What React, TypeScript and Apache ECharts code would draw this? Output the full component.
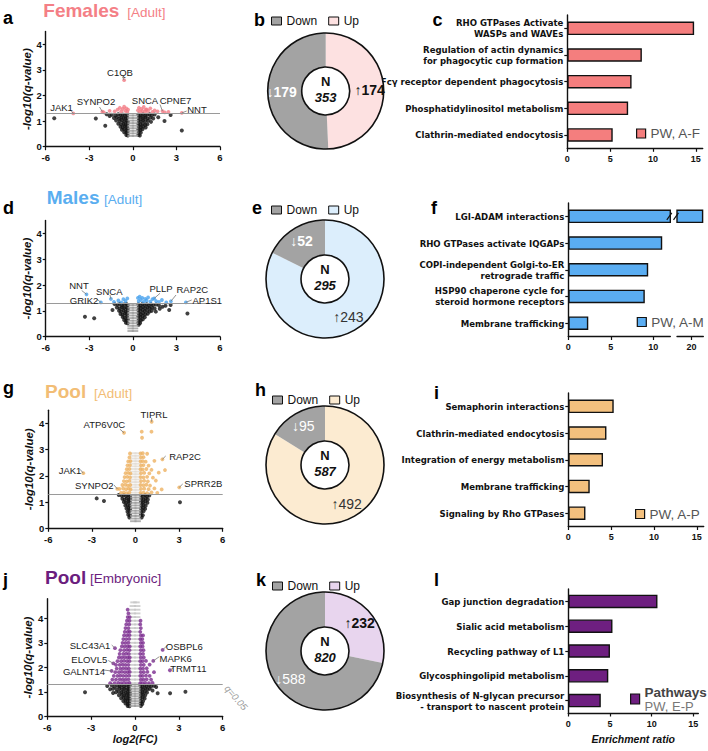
import React, { useEffect, useRef } from "react";
import * as echarts from "echarts";

type P = [number, number];

const FONT = '"Liberation Sans", Arial, Helvetica, sans-serif';
const NARROW = '"Liberation Sans Narrow", "Arial Narrow", "DejaVu Sans Condensed", sans-serif';

// ================= Volcano plots =================
const volcanoXTicks = [-6, -3, 0, 3, 6];
const volcanoYTicks = [0, 1, 2, 3, 4];
const qThreshold = 1.3; // -log10(0.05)

// ---- a: Females [Adult]
const aNonSig: P[] = [
  [-5.41, 1.11], [-2.55, 1.1], [-1.9, 0.82], [3.37, 0.63], [2.6, 1.24], [2.18, 1.0], [1.75, 1.15], [-1.6, 1.2],
  [-1.8, 1.27], [-1.45, 1.25], [-1.2, 1.22], [-1.0, 1.27], [-0.85, 1.24], [-0.7, 1.26], [-0.55, 1.22], [-0.4, 1.25],
  [-1.3, 1.12], [-1.1, 1.15], [-0.95, 1.1], [-0.8, 1.14], [-0.65, 1.12], [-0.5, 1.1], [-0.38, 1.13],
  [-1.15, 1.02], [-0.9, 1.0], [-0.75, 1.03], [-0.6, 0.98], [-0.45, 1.01], [-0.35, 0.97],
  [-1.0, 0.9], [-0.8, 0.88], [-0.65, 0.9], [-0.5, 0.86], [-0.37, 0.9],
  [-0.85, 0.78], [-0.7, 0.76], [-0.55, 0.8], [-0.4, 0.77],
  [-0.75, 0.66], [-0.6, 0.68], [-0.45, 0.65], [-0.35, 0.7],
  [-0.6, 0.56], [-0.45, 0.55], [-0.36, 0.58], [-0.45, 0.46], [-0.35, 0.44],
  [0.38, 1.26], [0.55, 1.24], [0.7, 1.27], [0.85, 1.22], [1.0, 1.25], [1.15, 1.27], [1.3, 1.23], [1.5, 1.26],
  [0.4, 1.13], [0.55, 1.15], [0.7, 1.12], [0.85, 1.14], [1.0, 1.1], [1.2, 1.13], [1.4, 1.1],
  [0.4, 1.02], [0.55, 1.0], [0.7, 1.03], [0.85, 0.99], [1.05, 1.01], [1.25, 0.97],
  [0.38, 0.9], [0.52, 0.88], [0.68, 0.9], [0.85, 0.86], [1.0, 0.88],
  [0.4, 0.78], [0.55, 0.77], [0.7, 0.79], [0.88, 0.75],
  [0.38, 0.67], [0.52, 0.65], [0.66, 0.68], [0.4, 0.56], [0.55, 0.55], [0.38, 0.46], [0.48, 0.44],
];
const aSig: P[] = [
  [-2.0, 1.34], [-1.6, 1.4], [-1.25, 1.38], [-1.05, 1.45], [-0.9, 1.52], [-0.8, 1.38], [-0.7, 1.48],
  [-0.6, 1.56], [-0.52, 1.4], [-0.45, 1.5], [-0.38, 1.36], [-0.33, 1.45],
  [0.35, 1.42], [0.42, 1.52], [0.5, 1.36], [0.58, 1.48], [0.66, 1.4], [0.75, 1.55], [0.85, 1.37],
  [0.95, 1.46], [1.05, 1.4], [1.2, 1.5], [1.35, 1.36], [1.5, 1.42], [1.7, 1.38], [2.2, 1.34], [2.45, 1.36],
];
const aBand: P[] = [
  [-0.15, 0.42], [0.15, 0.42], [-0.15, 0.52], [0.15, 0.52], [-0.15, 0.62], [0.15, 0.62],
  [-0.15, 0.72], [0.15, 0.72], [-0.15, 0.82], [0.15, 0.82], [-0.15, 0.92], [0.15, 0.92],
  [-0.15, 1.02], [0.15, 1.02], [-0.15, 1.12], [0.15, 1.12], [-0.15, 1.22], [0.15, 1.22],
];
const aGenes = ["C1QB", "JAK1", "SYNPO2", "SNCA", "CPNE7", "NNT"];
const aGenePts: P[] = [[-0.6, 2.6], [-4.1, 1.3], [-2.1, 1.37], [0.9, 1.45], [2.04, 1.39], [3.37, 1.32]];

// ---- d: Males [Adult]
const dNonSig: P[] = [
  [-3.3, 0.77], [-2.66, 0.71], [3.76, 0.9], [2.04, 1.16], [2.5, 1.03], [2.6, 1.23], [1.58, 0.97], [-1.4, 1.03], [2.25, 1.2], [1.85, 1.08],
  [-1.25, 1.26], [-1.05, 1.24], [-0.9, 1.27], [-0.75, 1.22], [-0.6, 1.25], [-0.45, 1.27], [-0.35, 1.22],
  [-1.1, 1.13], [-0.9, 1.1], [-0.75, 1.14], [-0.6, 1.11], [-0.45, 1.13], [-0.35, 1.08],
  [-0.95, 1.0], [-0.8, 0.98], [-0.65, 1.02], [-0.5, 0.97], [-0.37, 1.0],
  [-0.85, 0.88], [-0.7, 0.86], [-0.55, 0.9], [-0.4, 0.87],
  [-0.7, 0.76], [-0.55, 0.74], [-0.4, 0.78], [-0.6, 0.65], [-0.45, 0.63], [-0.35, 0.67], [-0.48, 0.54], [-0.36, 0.52],
  [0.38, 1.26], [0.52, 1.23], [0.66, 1.27], [0.8, 1.24], [0.95, 1.26], [1.1, 1.22], [1.25, 1.26], [1.4, 1.23], [1.6, 1.25], [1.8, 1.21],
  [0.4, 1.14], [0.55, 1.12], [0.7, 1.15], [0.85, 1.11], [1.0, 1.14], [1.15, 1.1], [1.3, 1.13], [1.5, 1.09],
  [0.38, 1.02], [0.52, 1.0], [0.68, 1.03], [0.82, 0.99], [0.98, 1.01], [1.15, 0.97], [1.3, 1.0],
  [0.4, 0.9], [0.55, 0.88], [0.7, 0.91], [0.86, 0.87], [1.02, 0.89],
  [0.38, 0.78], [0.52, 0.76], [0.67, 0.79], [0.82, 0.75],
  [0.4, 0.66], [0.55, 0.64], [0.68, 0.67], [0.38, 0.55], [0.5, 0.53], [0.4, 0.46],
];
const dSig: P[] = [
  [-1.3, 1.35], [-1.0, 1.4], [-0.8, 1.33], [-0.65, 1.45], [-0.5, 1.38], [-0.38, 1.48],
  [0.35, 1.5], [0.4, 1.38], [0.47, 1.55], [0.55, 1.42], [0.65, 1.5], [0.75, 1.35], [0.85, 1.46],
  [0.95, 1.4], [1.05, 1.52], [1.2, 1.36], [1.35, 1.45], [1.6, 1.38], [1.8, 1.35], [2.0, 1.42], [2.3, 1.33],
];
const dBand: P[] = [
  [-0.15, 0.22], [0.15, 0.22], [-0.15, 0.32], [0.15, 0.32], [-0.15, 0.42], [0.15, 0.42],
  [-0.15, 0.52], [0.15, 0.52], [-0.15, 0.62], [0.15, 0.62], [-0.15, 0.72], [0.15, 0.72],
  [-0.15, 0.82], [0.15, 0.82], [-0.15, 0.92], [0.15, 0.92], [-0.15, 1.02], [0.15, 1.02],
  [-0.15, 1.12], [0.15, 1.12], [-0.15, 1.22], [0.15, 1.22],
];
const dGenes = ["NNT", "GRIK2", "SNCA", "PLLP", "RAP2C", "AP1S1"];
const dGenePts: P[] = [[-3.19, 1.64], [-2.2, 1.33], [-1.51, 1.46], [1.47, 1.48], [2.62, 1.37], [3.65, 1.33]];

// ---- g: Pool [Adult]
const gNonSig: P[] = [
  [-2.67, 1.14], [-2.17, 1.04], [3.06, 0.99],
  [-1.15, 1.27], [-0.95, 1.24], [-0.8, 1.27], [-0.65, 1.23], [-0.5, 1.26], [-0.38, 1.22],
  [-0.9, 1.13], [-0.75, 1.1], [-0.6, 1.14], [-0.47, 1.1], [-0.36, 1.13],
  [-0.8, 1.0], [-0.65, 0.98], [-0.5, 1.02], [-0.38, 0.98],
  [-0.7, 0.87], [-0.55, 0.89], [-0.4, 0.86], [-0.62, 0.75], [-0.48, 0.77], [-0.37, 0.74],
  [-0.55, 0.63], [-0.42, 0.65], [-0.5, 0.52], [-0.38, 0.5], [-0.42, 0.41],
  [0.38, 1.26], [0.52, 1.23], [0.66, 1.27], [0.8, 1.22], [0.95, 1.25],
  [0.4, 1.13], [0.55, 1.1], [0.7, 1.14], [0.85, 1.1],
  [0.38, 1.0], [0.52, 0.98], [0.68, 1.02], [0.82, 0.97],
  [0.4, 0.87], [0.55, 0.89], [0.7, 0.86], [0.38, 0.75], [0.52, 0.77], [0.66, 0.74],
  [0.4, 0.63], [0.55, 0.65], [0.38, 0.52], [0.5, 0.5], [0.42, 0.41],
];
const gSig: P[] = [
  [-1.0, 1.35], [-0.8, 1.37], [-0.6, 1.34], [-0.42, 1.36],
  [-1.1, 1.5], [-0.85, 1.52], [-0.65, 1.49], [-0.47, 1.51], [-0.34, 1.48],
  [-0.9, 1.65], [-0.7, 1.66], [-0.52, 1.63], [-0.36, 1.65],
  [-0.8, 1.8], [-0.6, 1.79], [-0.42, 1.81], [-0.75, 1.95], [-0.56, 1.96], [-0.38, 1.94],
  [-0.68, 2.1], [-0.5, 2.11], [-0.35, 2.09], [-0.6, 2.25], [-0.42, 2.26],
  [-0.55, 2.4], [-0.38, 2.41], [-0.5, 2.55], [-0.35, 2.56], [-0.42, 2.7], [-0.38, 2.85],
  [0.35, 1.35], [0.55, 1.36], [0.8, 1.34], [1.1, 1.37], [1.5, 1.35],
  [0.38, 1.5], [0.6, 1.51], [0.9, 1.49], [1.3, 1.52], [1.8, 1.48],
  [0.35, 1.65], [0.55, 1.64], [0.75, 1.66], [1.0, 1.63],
  [0.38, 1.8], [0.6, 1.81], [0.85, 1.79], [1.4, 1.82],
  [0.35, 1.95], [0.55, 1.94], [0.8, 1.96], [1.2, 1.93],
  [0.38, 2.1], [0.6, 2.11], [0.95, 2.09], [1.6, 2.12],
  [0.35, 2.25], [0.5, 2.24], [0.75, 2.26], [1.1, 2.23], [2.03, 2.22],
  [0.38, 2.4], [0.55, 2.41], [0.9, 2.39], [0.35, 2.55], [0.5, 2.56], [0.7, 2.54], [1.3, 2.57],
  [0.38, 2.7], [0.55, 2.71], [0.35, 2.85], [0.5, 2.86], [0.8, 2.84],
  [0.43, 3.68], [1.1, 3.68], [0.45, 3.45],
];
const gBandLow: P[] = [
  [-0.15, 0.27], [0.15, 0.27], [-0.15, 0.37], [0.15, 0.37], [-0.15, 0.47], [0.15, 0.47],
  [-0.15, 0.57], [0.15, 0.57], [-0.15, 0.67], [0.15, 0.67], [-0.15, 0.77], [0.15, 0.77],
  [-0.15, 0.87], [0.15, 0.87], [-0.15, 0.97], [0.15, 0.97], [-0.15, 1.07], [0.15, 1.07],
  [-0.15, 1.17], [0.15, 1.17], [-0.15, 1.26], [0.15, 1.26],
];
const gBandHigh: P[] = [
  [-0.15, 1.36], [0.15, 1.36], [-0.15, 1.46], [0.15, 1.46], [-0.15, 1.56], [0.15, 1.56],
  [-0.15, 1.66], [0.15, 1.66], [-0.15, 1.76], [0.15, 1.76], [-0.15, 1.86], [0.15, 1.86],
  [-0.15, 1.96], [0.15, 1.96], [-0.15, 2.06], [0.15, 2.06], [-0.15, 2.16], [0.15, 2.16],
  [-0.15, 2.26], [0.15, 2.26], [-0.15, 2.36], [0.15, 2.36], [-0.15, 2.46], [0.15, 2.46],
  [-0.15, 2.56], [0.15, 2.56], [-0.15, 2.66], [0.15, 2.66], [-0.15, 2.76], [0.15, 2.76],
  [-0.15, 2.86], [0.15, 2.86],
];
const gGenes = ["TIPRL", "ATP6V0C", "RAP2C", "JAK1", "SYNPO2", "SPRR2B"];
const gGenePts: P[] = [[1.11, 4.06], [-0.79, 3.64], [1.85, 2.63], [-3.59, 2.1], [-1.25, 1.5], [3.01, 1.56]];

// ---- j: Pool [Embryonic]
const jNonSig: P[] = [
  [-3.42, 0.98], [1.55, 0.94], [2.4, 0.94], [3.45, 1.0], [-1.7, 1.1], [1.2, 1.05], [1.45, 1.2], [-1.5, 0.95],
  [-1.9, 1.24], [-1.6, 1.27], [-1.4, 1.22], [-1.2, 1.26], [-1.05, 1.23], [-0.9, 1.27], [-0.75, 1.22], [-0.6, 1.26], [-0.45, 1.23], [-0.35, 1.27],
  [-1.5, 1.12], [-1.25, 1.1], [-1.05, 1.14], [-0.9, 1.1], [-0.75, 1.13], [-0.6, 1.09], [-0.47, 1.12], [-0.36, 1.1],
  [-1.3, 0.98], [-1.1, 1.0], [-0.92, 0.97], [-0.78, 1.0], [-0.62, 0.96], [-0.48, 0.99], [-0.36, 0.97],
  [-1.1, 0.86], [-0.9, 0.88], [-0.75, 0.85], [-0.6, 0.87], [-0.45, 0.84], [-0.35, 0.88],
  [-0.95, 0.74], [-0.78, 0.76], [-0.62, 0.73], [-0.47, 0.75], [-0.36, 0.72],
  [-0.8, 0.62], [-0.65, 0.64], [-0.5, 0.61], [-0.37, 0.63], [-0.65, 0.52], [-0.5, 0.5], [-0.38, 0.53], [-0.5, 0.42], [-0.38, 0.41],
  [0.37, 1.26], [0.5, 1.22], [0.65, 1.27], [0.8, 1.23], [0.95, 1.26], [1.1, 1.22], [1.3, 1.25],
  [0.4, 1.13], [0.55, 1.1], [0.7, 1.14], [0.85, 1.1], [1.0, 1.12],
  [0.38, 1.0], [0.52, 0.98], [0.68, 1.01], [0.82, 0.97], [0.4, 0.87], [0.55, 0.89], [0.7, 0.86],
  [0.38, 0.75], [0.52, 0.77], [0.66, 0.73], [0.4, 0.63], [0.55, 0.61], [0.38, 0.52], [0.5, 0.5], [0.4, 0.42],
];
const jSig: P[] = [
  [-1.7, 1.35], [-1.4, 1.35], [-1.15, 1.36], [-0.95, 1.35], [-0.75, 1.36], [-0.55, 1.35], [-0.38, 1.36],
  [-1.55, 1.5], [-1.3, 1.5], [-1.05, 1.51], [-0.85, 1.5], [-0.65, 1.5], [-0.45, 1.51],
  [-1.45, 1.65], [-1.2, 1.65], [-1.0, 1.66], [-0.8, 1.65], [-0.6, 1.65], [-0.4, 1.66],
  [-1.35, 1.8], [-1.1, 1.8], [-0.9, 1.81], [-0.7, 1.8], [-0.5, 1.8], [-0.36, 1.81],
  [-1.25, 1.95], [-1.0, 1.95], [-0.8, 1.96], [-0.6, 1.95], [-0.42, 1.95],
  [-1.3, 2.1], [-1.05, 2.1], [-0.85, 2.11], [-0.65, 2.1], [-0.45, 2.1],
  [-1.2, 2.25], [-0.95, 2.25], [-0.75, 2.26], [-0.55, 2.25], [-0.38, 2.25],
  [-1.1, 2.4], [-0.9, 2.4], [-0.7, 2.41], [-0.5, 2.4], [-0.36, 2.4],
  [-1.05, 2.55], [-0.8, 2.55], [-0.6, 2.56], [-0.42, 2.55],
  [-1.0, 2.7], [-0.75, 2.7], [-0.55, 2.71], [-0.38, 2.7],
  [-0.9, 2.85], [-0.7, 2.85], [-0.5, 2.86], [-0.36, 2.85],
  [-0.85, 3.0], [-0.65, 3.0], [-0.45, 3.01], [-0.8, 3.15], [-0.6, 3.15], [-0.4, 3.16],
  [-0.75, 3.3], [-0.55, 3.3], [-0.38, 3.31], [-0.7, 3.45], [-0.5, 3.45], [-0.36, 3.46],
  [-0.65, 3.6], [-0.45, 3.6], [-0.6, 3.75], [-0.4, 3.75], [-0.55, 3.9], [-0.38, 3.9],
  [-0.5, 4.05], [-0.36, 4.05], [-0.45, 4.2], [-0.5, 4.35],
  [0.36, 1.35], [0.5, 1.35], [0.7, 1.36], [0.95, 1.35], [1.2, 1.36],
  [0.4, 1.5], [0.58, 1.5], [0.8, 1.51], [1.1, 1.5],
  [0.36, 1.65], [0.52, 1.65], [0.75, 1.66], [1.0, 1.65],
  [0.4, 1.8], [0.6, 1.8], [0.85, 1.81], [1.3, 1.8],
  [0.36, 1.95], [0.55, 1.95], [0.8, 1.96], [0.4, 2.1], [0.6, 2.1], [1.0, 2.11],
  [0.36, 2.25], [0.52, 2.25], [0.75, 2.26], [0.4, 2.4], [0.6, 2.4],
  [0.36, 2.55], [0.55, 2.55], [0.4, 2.7], [0.58, 2.7], [0.36, 2.85], [0.52, 2.85],
  [0.4, 3.0], [0.55, 3.0], [0.36, 3.15], [0.5, 3.15], [0.4, 3.3], [0.55, 3.3],
  [0.36, 3.45], [0.4, 3.6], [0.36, 3.75], [0.38, 3.9],
];
const jBandLow: P[] = [
  [-0.15, 0.42], [0.15, 0.42], [-0.15, 0.52], [0.15, 0.52], [-0.15, 0.62], [0.15, 0.62],
  [-0.15, 0.72], [0.15, 0.72], [-0.15, 0.82], [0.15, 0.82], [-0.15, 0.92], [0.15, 0.92],
  [-0.15, 1.02], [0.15, 1.02], [-0.15, 1.12], [0.15, 1.12], [-0.15, 1.22], [0.15, 1.22],
];
const jBandHigh: P[] = [
  [-0.15, 1.35], [0.15, 1.35], [-0.15, 1.5], [0.15, 1.5], [-0.15, 1.65], [0.15, 1.65],
  [-0.15, 1.8], [0.15, 1.8], [-0.15, 1.95], [0.15, 1.95], [-0.15, 2.1], [0.15, 2.1],
  [-0.15, 2.25], [0.15, 2.25], [-0.15, 2.4], [0.15, 2.4], [-0.15, 2.55], [0.15, 2.55],
  [-0.15, 2.7], [0.15, 2.7], [-0.15, 2.85], [0.15, 2.85], [-0.15, 3.0], [0.15, 3.0],
  [-0.15, 3.15], [0.15, 3.15], [-0.15, 3.3], [0.15, 3.3], [-0.15, 3.45], [0.15, 3.45],
  [-0.15, 3.6], [0.15, 3.6], [-0.15, 3.75], [0.15, 3.75], [-0.15, 3.9], [0.15, 3.9],
  [-0.15, 4.05], [0.15, 4.05], [-0.15, 4.2], [0.15, 4.2], [-0.15, 4.35], [0.15, 4.35],
  [-0.15, 4.5], [0.15, 4.5], [-0.1, 4.65], [0.1, 4.65],
];
const jGenes = ["SLC43A1", "ELOVL5", "GALNT14", "OSBPL6", "MAPK6", "TRMT11"];
const jGenePts: P[] = [[-1.37, 2.78], [-1.48, 2.16], [-1.6, 1.85], [1.89, 2.71], [1.25, 2.26], [2.39, 1.88]];

// ================= Donut charts =================
const pieDown = [179, 52, 95, 588];
const pieUp = [174, 243, 492, 232];
const pieTotal = [353, 295, 587, 820];

// ================= Enrichment bar charts =================
const cCats = [
  "RHO GTPases Activate\nWASPs and WAVEs",
  "Regulation of actin dynamics\nfor phagocytic cup formation",
  "Fcγ receptor dependent phagocytosis",
  "Phosphatidylinositol metabolism",
  "Clathrin-mediated endocytosis",
];
const cVals = [14.8, 8.7, 7.5, 7.1, 5.3];
const fCats = [
  "LGI-ADAM interactions",
  "RHO GTPases activate IQGAPs",
  "COPI-independent Golgi-to-ER\nretrograde traffic",
  "HSP90 chaperone cycle for\nsteroid hormone receptors",
  "Membrane trafficking",
];
const fVals = [21.3, 11.05, 9.4, 9.0, 2.35];
const iCats = [
  "Semaphorin interactions",
  "Clathrin-mediated endocytosis",
  "Integration of energy metabolism",
  "Membrane trafficking",
  "Signaling by Rho GTPases",
];
const iVals = [5.3, 4.45, 4.05, 2.5, 2.0];
const lCats = [
  "Gap junction degradation",
  "Sialic acid metabolism",
  "Recycling pathway of L1",
  "Glycosphingolipid metabolism",
  "Biosynthesis of N-glycan precursor\n- transport to nascent protein",
];
const lVals = [10.7, 5.3, 5.0, 4.8, 3.9];
const barTicks = [0, 5, 10, 15];
const fTicksLow = [0, 5, 10];
const fTicksHigh = [20];
const fBreak = [12, 18.4]; // axis break

// ================= Styling / layout =================
const COL = {
  female: { sig: "#F27D86", title: "#F47F86", bar: "#F47E7E", up: "#FDE1E1" },
  male: { sig: "#4AA3EE", title: "#5AAEF0", bar: "#5AADF2", up: "#DCEEFC" },
  poolA: { sig: "#EDB262", title: "#F2BD75", bar: "#F3C07E", up: "#FCEBD1" },
  poolE: { sig: "#7A2A8E", title: "#6B1D7E", bar: "#6E1F80", up: "#E8D5EE" },
};
const GREY = "#A3A3A3";

const volcanoGrids = [
  { left: 45.7, top: 31.5, width: 174.3, height: 115.2, max: 4.5 },
  { left: 45.7, top: 220.4, width: 174.3, height: 116.3, max: 4.5 },
  { left: 48.3, top: 410.2, width: 174.4, height: 118.1, max: 4.5 },
  { left: 47.3, top: 598.7, width: 175.4, height: 117.6, max: 4.8 },
];
const barGrids = [
  { left: 567.3, top: 15, width: 135.4, height: 133.3 }, // c
  { left: 568.3, top: 203, width: 102, height: 133.5 }, // f low
  { left: 677, top: 203, width: 26.3, height: 133.5 }, // f high
  { left: 568.3, top: 393, width: 135.4, height: 133.5 }, // i
  { left: 568.3, top: 589, width: 130, height: 124 }, // l
];
const pieLayout = [
  { cx: 325.7, cy: 91, r: 58, ri: 24, legendX: 271, legendY: 15 },
  { cx: 325, cy: 279, r: 59, ri: 24, legendX: 271, legendY: 204 },
  { cx: 325, cy: 465, r: 59, ri: 24, legendX: 272, legendY: 394 },
  { cx: 325, cy: 651, r: 59, ri: 24, legendX: 272, legendY: 580 },
];
// [textCenterX, textCenterY, leaderStartX, leaderStartY] (leader ends at the data point)
const aLabelPos = [[120, 72.5, 122.5, 77], [61.5, 107, 71, 110.5], [96, 101.7, 99.5, 107], [145, 100.5, -1, -1], [175.5, 100.5, 160, 104.5], [197, 109, 186.7, 111]];
const dLabelPos = [[79, 285, 81.7, 290.5], [84, 300, 96.7, 299], [109.3, 291, 110, 295], [161, 288.3, 160, 293.3], [192.3, 289.5, 176, 295], [207.3, 300.8, 191.7, 300]];
const gLabelPos = [[154, 414.3, 151.7, 418], [104.3, 424, 120, 429.3], [185, 456, 165.7, 456], [70, 470, 80, 469.3], [94.3, 485.7, 114, 485], [203.3, 483.3, 182.7, 484]];
const jLabelPos = [[90, 645.2, 111.7, 645], [89.3, 659.6, 108.3, 660.5], [84, 671.2, 103.3, 670], [184.3, 646.7, 167.7, 645], [175.7, 658.3, 159.3, 656.7], [188.3, 668.8, 173.3, 667.7]];

const volcanoes = [
  { nonSig: aNonSig, sig: aSig, bandLow: aBand, bandHigh: [] as P[], genes: aGenes, genePts: aGenePts, labels: aLabelPos, color: COL.female.sig },
  { nonSig: dNonSig, sig: dSig, bandLow: dBand, bandHigh: [] as P[], genes: dGenes, genePts: dGenePts, labels: dLabelPos, color: COL.male.sig },
  { nonSig: gNonSig, sig: gSig, bandLow: gBandLow, bandHigh: gBandHigh, genes: gGenes, genePts: gGenePts, labels: gLabelPos, color: COL.poolA.sig },
  { nonSig: jNonSig, sig: jSig, bandLow: jBandLow, bandHigh: jBandHigh, genes: jGenes, genePts: jGenePts, labels: jLabelPos, color: COL.poolE.sig },
];
const pieColors = [COL.female.up, COL.male.up, COL.poolA.up, COL.poolE.up];
const pieIds = ["b", "e", "h", "k"];
const pieWeights = [
  ["bold", "bold"],
  ["bold", "normal"],
  ["normal", "normal"],
  ["normal", "bold"],
];

const AX_LINE = { show: true, onZero: false, lineStyle: { color: "#111", width: 1.4 } };

function buildOption(): any {
  const grid: any[] = [];
  const xAxis: any[] = [];
  const yAxis: any[] = [];
  const series: any[] = [];
  const legend: any[] = [];

  volcanoes.forEach((v, k) => {
    const g = volcanoGrids[k];
    grid.push({ left: g.left, top: g.top, width: g.width, height: g.height });
    xAxis.push({
      type: "value", gridIndex: k, min: -6, max: 6, interval: 3,
      axisLine: AX_LINE,
      axisTick: { show: true, length: 3.5, lineStyle: { color: "#111", width: 1.2 }, customValues: volcanoXTicks },
      axisLabel: { customValues: volcanoXTicks, fontSize: 9.5, fontWeight: "bold", color: "#111", margin: 6, fontFamily: FONT },
      splitLine: { show: false },
      name: k === 3 ? "log2(FC)" : "",
      nameLocation: "middle", nameGap: 14,
      nameTextStyle: { fontStyle: "italic", fontWeight: "bold", fontSize: 11, color: "#111", fontFamily: FONT },
    });
    yAxis.push({
      type: "value", gridIndex: k, min: 0, max: g.max, interval: 1,
      axisLine: AX_LINE,
      axisTick: { show: true, length: 3, lineStyle: { color: "#111", width: 1.2 }, customValues: volcanoYTicks },
      axisLabel: { customValues: volcanoYTicks, fontSize: 9.5, fontWeight: "bold", color: "#111", margin: 4, fontFamily: FONT },
      splitLine: { show: false },
      name: "-log10(q-value)", nameLocation: "middle", nameRotate: 90, nameGap: 10,
      nameTextStyle: { fontStyle: "italic", fontWeight: "bold", fontSize: 11.5, color: "#111", fontFamily: FONT },
    });
    series.push({
      type: "scatter", xAxisIndex: k, yAxisIndex: k, data: v.nonSig, symbolSize: 4, silent: true,
      itemStyle: { color: "#111" },
      markLine: {
        silent: true, symbol: "none", label: { show: false },
        lineStyle: { color: "#9a9a9a", width: 1, type: "solid" },
        data: [{ yAxis: qThreshold }],
      },
    });
    series.push({
      type: "scatter", xAxisIndex: k, yAxisIndex: k, data: v.bandLow, symbol: "rect", symbolSize: [6.5, 1.9], silent: true,
      itemStyle: { color: "#9c9c9c" },
    });
    if (v.bandHigh.length) {
      series.push({
        type: "scatter", xAxisIndex: k, yAxisIndex: k, data: v.bandHigh, symbol: "rect", symbolSize: [6.5, 1.9], silent: true,
        itemStyle: { color: k === 3 ? "#c6c6c6" : "#e2dcd4" },
      });
    }
    series.push({
      type: "scatter", xAxisIndex: k, yAxisIndex: k, data: v.sig.concat(v.genePts), symbolSize: 3.8, silent: true,
      itemStyle: { color: v.color },
    });
  });

  // bar grids
  const bars = [
    { cats: cCats, vals: cVals, min: 0, max: 15.8, ticks: barTicks, color: COL.female.bar, name: "PW, A-F", showCats: true },
    { cats: fCats, vals: fVals, min: 0, max: fBreak[0], ticks: fTicksLow, color: COL.male.bar, name: "PW, A-M", showCats: true },
    { cats: fCats, vals: fVals, min: fBreak[1], max: 21.3, ticks: fTicksHigh, color: COL.male.bar, name: "PW, A-M", showCats: false },
    { cats: iCats, vals: iVals, min: 0, max: 15.8, ticks: barTicks, color: COL.poolA.bar, name: "PW, A-P", showCats: true },
    { cats: lCats, vals: lVals, min: 0, max: 15.6, ticks: barTicks, color: COL.poolE.bar, name: "PW, E-P", showCats: true },
  ];
  bars.forEach((b, i) => {
    const gi = 4 + i;
    const g = barGrids[i];
    grid.push({ left: g.left, top: g.top, width: g.width, height: g.height });
    xAxis.push({
      type: "value", gridIndex: gi, min: b.min, max: b.max,
      axisLine: AX_LINE,
      axisTick: { show: true, length: 3.5, lineStyle: { color: "#111", width: 1.2 }, customValues: b.ticks },
      axisLabel: { customValues: b.ticks, fontSize: 9, fontWeight: "bold", color: "#111", margin: 6, fontFamily: FONT },
      splitLine: { show: false },
      name: i === 4 ? "Enrichment ratio" : "",
      nameLocation: "middle", nameGap: 20,
      nameTextStyle: { fontStyle: "italic", fontWeight: "bold", fontSize: 10.5, color: "#111", fontFamily: FONT },
    });
    yAxis.push({
      type: "category", gridIndex: gi, data: b.cats, inverse: true, show: b.showCats,
      axisLine: { show: true, lineStyle: { color: "#111", width: 1.4 } },
      axisTick: { show: true, alignWithLabel: true, length: 3, lineStyle: { color: "#111", width: 1.2 } },
      axisLabel: { fontFamily: NARROW, fontWeight: "bold", fontSize: 9.5, color: "#111", margin: 4, lineHeight: 11 },
    });
    series.push({
      type: "bar", name: b.name, xAxisIndex: gi, yAxisIndex: gi, data: b.vals, barWidth: 13.5, silent: true,
      itemStyle: { color: b.color, borderColor: "#111", borderWidth: 1.4 },
    });
  });

  const barLegends = [
    { name: "PW, A-F", left: 636, top: 126.5 },
    { name: "PW, A-M", left: 636.7, top: 315 },
    { name: "PW, A-P", left: 635, top: 507 },
  ];
  barLegends.forEach((l) => {
    legend.push({
      data: [l.name], left: l.left, top: l.top, padding: 0, icon: "rect", itemWidth: 9, itemHeight: 9,
      itemStyle: { borderColor: "#111", borderWidth: 1.2 }, selectedMode: false,
      textStyle: { fontSize: 13.5, color: "#555", fontFamily: FONT },
    });
  });
  legend.push({
    data: ["PW, E-P"], left: 630, top: 685, padding: 0, icon: "rect", itemWidth: 9, itemHeight: 10,
    itemStyle: { borderColor: "#111", borderWidth: 1.2 }, selectedMode: false,
    formatter: (n: string) => "{a|Pathways}\n{b|" + n + "}",
    textStyle: {
      fontFamily: FONT,
      rich: {
        a: { fontSize: 13.5, fontWeight: "bold", color: "#444", lineHeight: 14, fontFamily: FONT },
        b: { fontSize: 13, color: "#777", lineHeight: 14, fontFamily: FONT },
      },
    },
  });

  // pies
  pieIds.forEach((id, i) => {
    const p = pieLayout[i];
    series.push({
      type: "pie", center: [p.cx, p.cy], radius: [p.ri, p.r], startAngle: 90, clockwise: true,
      silent: true, avoidLabelOverlap: false, labelLine: { show: false },
      data: [
        {
          name: id + ":Up", value: pieUp[i], itemStyle: { color: pieColors[i] },
          label: { show: true, position: "inside", formatter: "↑{c}", color: i === 0 || i === 3 ? "#111" : "#333", fontSize: 14, fontWeight: pieWeights[i][1], fontFamily: FONT },
        },
        {
          name: id + ":Down", value: pieDown[i], itemStyle: { color: GREY },
          label: { show: true, position: "inside", formatter: "↓{c}", color: "#fff", fontSize: 14, fontWeight: pieWeights[i][0], fontFamily: FONT },
        },
      ],
    });
    legend.push({
      data: [id + ":Down", id + ":Up"], left: p.legendX, top: p.legendY, padding: 0, icon: "rect",
      itemWidth: 10, itemHeight: 8, itemGap: 11, selectedMode: false,
      itemStyle: { borderColor: "#111", borderWidth: 1 },
      formatter: (n: string) => n.split(":")[1],
      textStyle: { fontSize: 12, color: "#111", fontFamily: FONT },
    });
  });

  return {
    animation: false,
    textStyle: { fontFamily: FONT },
    grid, xAxis, yAxis, series, legend,
  };
}

function buildGraphics(chart: any): any[] {
  const els: any[] = [];
  const txt = (x: number, y: number, text: string, o: any = {}, extra: any = {}) =>
    els.push({
      type: "text", x, y, z: 30, silent: true, ...extra,
      style: { text, fontFamily: FONT, fill: "#111", fontSize: 10, align: "left", verticalAlign: "middle", ...o },
    });

  // panel letters (bottom aligned: y = baseline + descent)
  const letters: [string, number, number][] = [
    ["a", 3, 26.5], ["b", 254, 29], ["c", 432.5, 29],
    ["d", 3, 217.3], ["e", 252, 217.3], ["f", 431, 217.3],
    ["g", 3, 397.3], ["h", 255, 399], ["i", 434, 402.3],
    ["j", 3, 589], ["k", 256, 589], ["l", 434, 589],
  ];
  letters.forEach(([t, x, y]) => txt(x, y, t, { fontSize: 18, fontWeight: "bold", verticalAlign: "bottom", fill: "#000" }));

  // titles
  const titles: [string, string, string, number, number, number, number][] = [
    ["Females", "[Adult]", COL.female.title, 43.3, 10.3, 127.3, 12],
    ["Males", "[Adult]", COL.male.title, 46.7, 197.8, 104, 199.3],
    ["Pool", "[Adult]", COL.poolA.title, 45, 391.7, 94, 393.3],
    ["Pool", "[Embryonic]", COL.poolE.title, 45, 577, 90, 578.8],
  ];
  titles.forEach(([t1, t2, c, x1, y1, x2, y2]) => {
    txt(x1, y1, t1, { fontSize: 19, fontWeight: "bold", fill: c });
    txt(x2, y2, t2, { fontSize: 13.5, fill: c });
  });

  // gene annotations
  volcanoes.forEach((v, k) => {
    v.genes.forEach((name, gi) => {
      const pos = v.labels[gi];
      const pt = chart.convertToPixel({ gridIndex: k }, v.genePts[gi]);
      if (pos[2] >= 0) {
        els.push({
          type: "line", z: 29, silent: true,
          shape: { x1: pos[2], y1: pos[3], x2: pt[0], y2: pt[1] },
          style: { stroke: "#777", lineWidth: 0.8 },
        });
      }
      txt(pos[0], pos[1], name, { fontSize: 9.5, align: "center", fill: "#1a1a1a" });
    });
  });

  // q = 0.05 label at the end of the threshold line of panel j
  const qEnd = chart.convertToPixel({ gridIndex: 3 }, [6, qThreshold]);
  txt(qEnd[0] + 4, qEnd[1] + 2, "q=0.05", { fontSize: 9.5, fill: "#999", fontStyle: "italic" }, { rotation: -0.86 });

  // donut outlines and centre labels
  pieLayout.forEach((p, i) => {
    els.push({ type: "circle", z: 20, silent: true, shape: { cx: p.cx, cy: p.cy, r: p.r }, style: { fill: "none", stroke: "#111", lineWidth: 1.6 } });
    els.push({ type: "circle", z: 20, silent: true, shape: { cx: p.cx, cy: p.cy, r: p.ri }, style: { fill: "#fff", stroke: "#111", lineWidth: 1.6 } });
    txt(p.cx, p.cy - 9.5, "N", { fontSize: 13, fontWeight: "bold", align: "center" });
    txt(p.cx, p.cy + 6.5, String(pieTotal[i]), { fontSize: 13, fontWeight: "bold", fontStyle: "italic", align: "center" });
  });

  // axis break marks on panel f
  const b0 = chart.convertToPixel({ gridIndex: 5 }, [fBreak[0], 0]);
  const b1 = chart.convertToPixel({ gridIndex: 6 }, [fBreak[1], 0]);
  [b0[0] - 1, b1[0] - 1].forEach((x) => {
    els.push({ type: "line", z: 31, silent: true, shape: { x1: x - 2.5, y1: b0[1] + 3.5, x2: x + 2.5, y2: b0[1] - 3.5 }, style: { stroke: "#111", lineWidth: 1.2 } });
  });

  return els;
}

export default function App() {
  const ref = useRef<HTMLDivElement>(null);
  useEffect(() => {
    document.body.style.margin = "0";
    const chart = echarts.init(ref.current as HTMLDivElement, null, { renderer: "svg" });
    chart.setOption(buildOption());
    chart.setOption({ graphic: buildGraphics(chart) });
    return () => chart.dispose();
  }, []);
  return <div ref={ref} style={{ width: 708, height: 751, background: "#fff" }} />;
}
